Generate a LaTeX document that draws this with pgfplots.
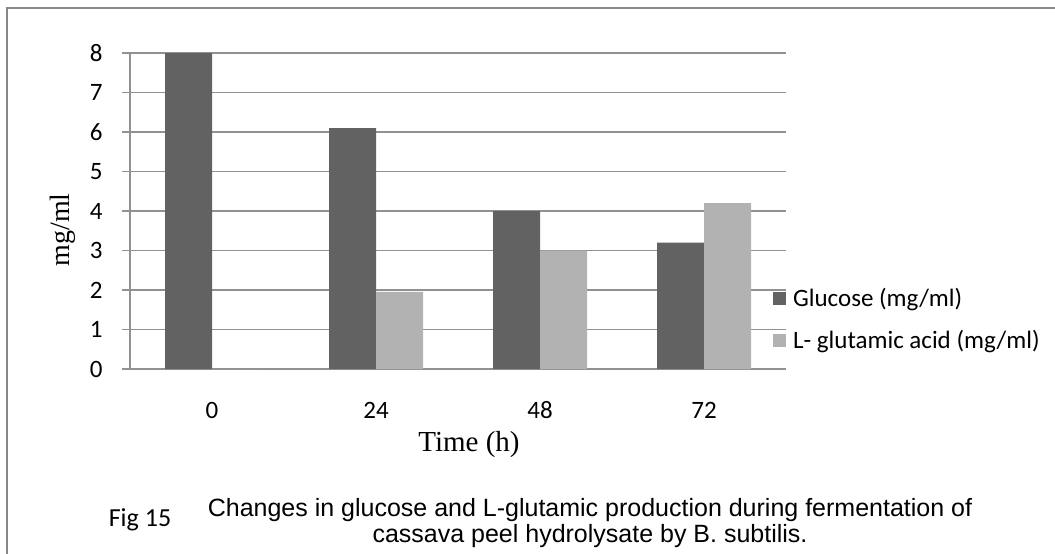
\documentclass[border=0pt]{standalone}
\usepackage{fontspec}
\setmainfont{Carlito}
\newfontfamily\timesf{Liberation Serif}
\newfontfamily\arialf{Liberation Sans}
\usepackage{pgfplots}
\pgfplotsset{compat=1.18}
\definecolor{darkbar}{RGB}{98,98,98}
\definecolor{lightbar}{RGB}{178,178,178}
\definecolor{gridc}{RGB}{145,145,145}
\definecolor{framec}{RGB}{136,136,136}
\begin{document}
\begin{tikzpicture}
\begin{scope}[x=1pt,y=-1pt]
\useasboundingbox (0,0) rectangle (1055,554);
\draw[framec, line width=1.5pt] (7,560) -- (7,8) -- (1060,8);
\node[font=\fontsize{26}{30}\selectfont, anchor=center] at (140,520) {Fig 15};
\node[font=\arialf\fontsize{25}{26}\selectfont, align=center] at (590,523) {Changes in glucose and L-glutamic production during fermentation of\\cassava peel hydrolysate by B. subtilis.};
\node[font=\timesf\fontsize{29}{33}\selectfont, anchor=base] at (469,451) {Time (h)};
\node[font=\timesf\fontsize{28}{32}\selectfont, rotate=90, anchor=base] at (69,230) {mg/ml};
\end{scope}
\begin{axis}[
 at={(130pt,-369pt)}, anchor=south west,
 scale only axis, width=656pt, height=316pt,
 xmin=-0.5, xmax=3.5, ymin=0, ymax=8,
 ybar=0pt, bar width=47pt,
 axis x line*=bottom, axis y line*=left,
 axis line style={gridc, line width=1.5pt, -},
 xtick={0,1,2,3}, xticklabels={0,24,48,72},
 ytick={0,1,...,8},
 ymajorgrids, major grid style={gridc, line width=1.5pt},
 tick align=outside,
 ytick style={gridc, line width=1.5pt}, major tick length=8pt,
 xtick style={draw=none},
 /pgf/number format/assume math mode=true,
 ticklabel style={font=\fontsize{25}{29}\selectfont},
 yticklabel style={xshift=-16pt},
 xticklabel style={anchor=north, text height=17pt, text depth=0pt, inner sep=0pt, yshift=-24pt},
 legend style={at={(0.980,0.255)}, anchor=north west, draw=none, fill=none, inner sep=0pt, row sep=22pt,
   font=\fontsize{25}{29}\selectfont, nodes={inner sep=0pt},
   /tikz/every odd column/.append style={column sep=7pt}},
 legend cell align=left,
 legend image code/.code={\fill[#1] (0pt,-6.5pt) rectangle (13pt,6.5pt);},
]
\addplot[fill=darkbar, draw=none] coordinates {(0,8) (1,6.1) (2,4) (3,3.2)};
\addplot[fill=lightbar, draw=none] coordinates {(0,0) (1,1.95) (2,3) (3,4.2)};
\legend{Glucose (mg/ml), L- glutamic acid (mg/ml)}
\end{axis}
\end{tikzpicture}
\end{document}
